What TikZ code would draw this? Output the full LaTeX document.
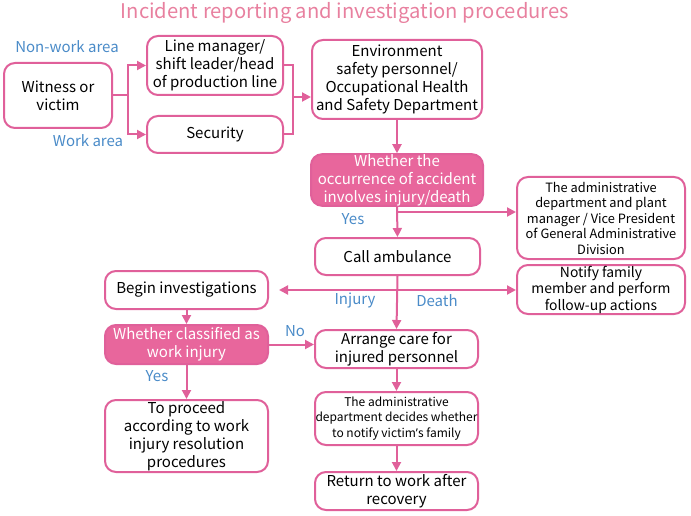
\documentclass[tikz,border=0pt]{standalone}
\usepackage{fontspec}
\setmainfont{Noto Sans CJK SC}
\newfontfamily\apfont{Noto Sans}
\usetikzlibrary{arrows.meta}
\definecolor{pk}{HTML}{E0609A}
\definecolor{pkfill}{HTML}{E8669C}
\definecolor{ttl}{HTML}{E8809F}
\definecolor{bl}{HTML}{4A8BC8}
\begin{document}
\begin{tikzpicture}[x=1pt,y=-1pt,
 box/.style={draw=pk, line width=2pt, rounded corners=11pt, align=center, inner sep=0pt, fill=white, font=\fontsize{15}{18}\selectfont},
 dec/.style={box, fill=pkfill, text=white},
 small/.style={font=\fontsize{12.8}{15.5}\selectfont},
 lab/.style={text=bl, font=\fontsize{15}{17}\selectfont, inner sep=0pt},
 arr/.style={draw=pk, line width=2pt, -{Triangle[length=9pt,width=9pt]}},
 ln/.style={draw=pk, line width=2pt}]
\useasboundingbox (0,0) rectangle (691,516);
\node[text=ttl, font=\fontsize{20.2}{23}\selectfont, inner sep=0pt] (title) at (345,13) {Incident reporting and investigation procedures};
\node[box, minimum width=108, minimum height=65] (wit) at (58,95.5) {Witness or\\victim};
\node[box, minimum width=136, minimum height=59] (lm) at (215,65.5) {Line manager/\\shift leader/head\\of production line};
\node[box, minimum width=136, minimum height=37] (sec) at (215,134.5) {Security};
\node[box, minimum width=170, minimum height=79] (env) at (397,79.5) {Environment\\safety personnel/\\Occupational Health\\and Safety Department};
\node[dec, minimum width=172, minimum height=50] (inj) at (397,180) {Whether the\\occurrence of accident\\involves injury/death};
\node[box, small, minimum width=168, minimum height=82] (adm) at (601,218) {The administrative\\department and plant\\manager / Vice President\\of General Administrative\\Division};
\node[box, minimum width=165, minimum height=37] (amb) at (397.5,256.5) {Call ambulance};
\node[box, font=\fontsize{13.9}{16.5}\selectfont, minimum width=168, minimum height=49] (fam) at (601,289.5) {Notify family\\member and perform\\follow-up actions};
\node[box, minimum width=163, minimum height=38] (beg) at (186.5,290) {Begin investigations};
\node[dec, minimum width=163, minimum height=39] (cls) at (186.5,344.5) {Whether classified as\\work injury};
\node[box, minimum width=163, minimum height=38] (care) at (396.5,349) {Arrange care for\\injured personnel};
\node[box, minimum width=163, minimum height=72] (proc) at (186.5,436) {To proceed\\according to work\\injury resolution\\procedures};
\node[box, font=\fontsize{12}{15.5}\selectfont, minimum width=163, minimum height=53] (adec) at (396.5,418.5) {The administrative\\department decides whether\\to notify victim{\apfont ’}s family};
\node[box, minimum width=163, minimum height=38] (ret) at (396.5,491) {Return to work after\\recovery};
% connectors
\coordinate (j1) at (128,95.5);
\draw[ln] (wit.east) -- (j1);
\draw[arr] (j1) |- (lm.west);
\draw[arr] (j1) |- (sec.west);
\coordinate (j2) at (293,97);
\draw[ln] (lm.east) -| (j2) |- (sec.east);
\draw[arr] (j2) -- (j2 -| env.west);
\draw[arr] (env.south) -- (inj.north);
\draw[arr] (inj.south) -- (amb.north);
\coordinate (j3) at (397,212);
\draw[arr] (j3) -- (j3 -| adm.west);
\draw[arr] (amb.south) -- (care.north);
\coordinate (j4) at (397,290);
\coordinate (j5) at (279,290);
\draw[arr] (j4) -- (j4 -| fam.west);
\draw[arr] (j4) -- (j5);
\draw[arr] (beg.south) -- (cls.north);
\draw[arr] (cls.east) -- (cls.east -| care.west);
\draw[arr] (cls.south) -- (proc.north);
\draw[arr] (care.south) -- (adec.north);
\draw[arr] (adec.south) -- (ret.north);
% labels
\node[lab] (l1) at (67,47) {Non-work area};
\node[lab] (l2) at (88,141) {Work area};
\node[lab] (l3) at (353,219) {Yes};
\node[lab] (l4) at (355,301) {Injury};
\node[lab] (l5) at (437,301) {Death};
\node[lab] (l6) at (295,331) {No};
\node[lab] (l7) at (157,376) {Yes};
\end{tikzpicture}
\end{document}
